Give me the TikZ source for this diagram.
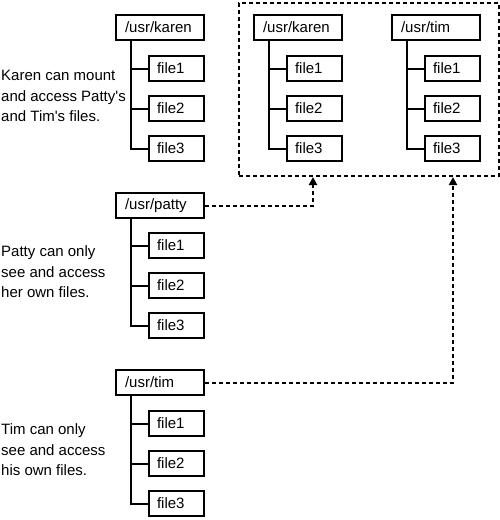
\documentclass[tikz,border=0pt]{standalone}
\usepackage{fontspec}
\setmainfont{Liberation Sans}
\usetikzlibrary{arrows.meta}
\tikzset{
  dirbox/.style={draw, line width=2pt, text width=70pt, inner xsep=9pt, inner ysep=0pt,
    minimum height=25pt, align=left, anchor=north west},
  filebox/.style={draw, line width=2pt, text width=39pt, inner xsep=8pt, inner ysep=0pt,
    minimum height=25pt, align=left, anchor=north west},
  branch/.style={line width=2pt},
  sharebox/.style={draw, line width=2pt, dash pattern=on 4pt off 3pt, inner sep=0pt,
    anchor=north west},
  link/.style={line width=2pt, dash pattern=on 4pt off 3pt, -{Triangle[length=8pt,width=8pt]}},
  note/.style={align=left, anchor=west, inner sep=0pt}
}
\begin{document}
\begin{tikzpicture}[x=1pt, y=-1pt, font=\fontsize{15pt}{20.5pt}\selectfont]
        \useasboundingbox (0,0) rectangle (500,520);
        %% karen
        \node[dirbox] (karen) at (115,14) {/usr/karen};
        \foreach \i/\y in {1/55,2/95,3/135}
          \node[filebox] (kfile\i) at (148,\y) {file\i};
        \foreach \i in {1,2,3}
          \draw[branch] ([xshift=16pt]karen.south west) |- (kfile\i.west);
        \node[note] (karennote) at (1,96) {Karen can mount\\and access Patty\textquotesingle s\\and Tim\textquotesingle s files.};
        %% patty
        \node[dirbox] (patty) at (115,192) {/usr/patty};
        \foreach \i/\y in {1/232,2/272,3/312}
          \node[filebox] (pfile\i) at (148,\y) {file\i};
        \foreach \i in {1,2,3}
          \draw[branch] ([xshift=16pt]patty.south west) |- (pfile\i.west);
        \node[note] (pattynote) at (1,272) {Patty can only\\see and access\\her own files.};
        %% tim
        \node[dirbox] (tim) at (115,369) {/usr/tim};
        \foreach \i/\y in {1/410,2/450,3/490}
          \node[filebox] (tfile\i) at (148,\y) {file\i};
        \foreach \i in {1,2,3}
          \draw[branch] ([xshift=16pt]tim.south west) |- (tfile\i.west);
        \node[note] (timnote) at (1,450) {Tim can only\\see and access\\his own files.};
        %% karen's view: mounted trees
        \node[sharebox, minimum width=260pt, minimum height=173pt] (shared) at (238,2) {};
        \node[dirbox] (mkaren) at (253,14) {/usr/karen};
        \foreach \i/\y in {1/55,2/95,3/135}
          \node[filebox] (mkfile\i) at (286,\y) {file\i};
        \foreach \i in {1,2,3}
          \draw[branch] ([xshift=16pt]mkaren.south west) |- (mkfile\i.west);
        \node[dirbox] (mtim) at (391,14) {/usr/tim};
        \foreach \i/\y in {1/55,2/95,3/135}
          \node[filebox] (mtfile\i) at (424,\y) {file\i};
        \foreach \i in {1,2,3}
          \draw[branch] ([xshift=16pt]mtim.south west) |- (mtfile\i.west);
        %% links
        \draw[link] (patty.east) -| ([xshift=75pt]shared.south west);
        \draw[link] (tim.east) -| ([xshift=215pt]shared.south west);
    \end{tikzpicture}
\end{document}
